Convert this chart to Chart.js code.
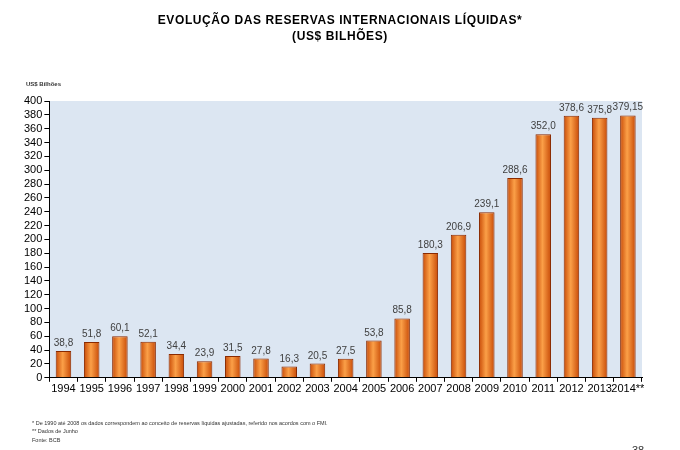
<!DOCTYPE html>
<html><head><meta charset="utf-8">
<script src="https://cdn.jsdelivr.net/npm/chart.js@4"></script>
<style>body{margin:0;background:#fff}#wrap{width:680px;height:450px;position:relative}</style>
</head><body><div id="wrap"><canvas id="c"></canvas></div>
<script>
const anos = ["1994","1995","1996","1997","1998","1999","2000","2001","2002","2003","2004","2005","2006","2007","2008","2009","2010","2011","2012","2013","2014**"];
const reservas = [38.8,51.8,60.1,52.1,34.4,23.9,31.5,27.8,16.3,20.5,27.5,53.8,85.8,180.3,206.9,239.1,288.6,352.0,378.6,375.8,379.15];
const rotulos = ["38,8","51,8","60,1","52,1","34,4","23,9","31,5","27,8","16,3","20,5","27,5","53,8","85,8","180,3","206,9","239,1","288,6","352,0","378,6","375,8","379,15"];

const extras = {
  id: "extras",
  beforeDraw(chart) {
    const { ctx, chartArea: a } = chart;
    ctx.save();
    ctx.fillStyle = "#dce6f2";
    ctx.fillRect(a.left, a.top, a.right - a.left, a.bottom - a.top);
    ctx.restore();
  },
  afterDatasetsDraw(chart) {
    const { ctx } = chart;
    ctx.save();
    ctx.font = "10px Arial, 'Liberation Sans'";
    ctx.fillStyle = "#404040";
    ctx.textAlign = "center";
    chart.getDatasetMeta(0).data.forEach((bar, i) => {
      ctx.fillText(rotulos[i], bar.x, bar.y - 5);
    });
    ctx.fillStyle = "#000";
    ctx.font = "bold 12px Arial, 'Liberation Sans'";
    ctx.letterSpacing = "0.6px";
    ctx.fillText("EVOLUÇÃO DAS RESERVAS INTERNACIONAIS LÍQUIDAS*", 340, 24);
    ctx.fillText("(US$ BILHÕES)", 340, 40);
    ctx.letterSpacing = "0px";
    ctx.textAlign = "left";
    ctx.font = "bold 6px Arial, 'Liberation Sans'";
    ctx.fillStyle = "#333";
    ctx.fillText("US$ Bilhões", 26, 86);
    ctx.font = "5.5px Arial, 'Liberation Sans'";
    ctx.fillText("* De 1990 até 2008 os dados correspondem ao conceito de reservas líquidas ajustadas, referido nos acordos com o FMI.", 32, 425);
    ctx.fillText("** Dados de Junho", 32, 433);
    ctx.fillText("Fonte: BCB", 32, 442);
    ctx.font = "11px Arial, 'Liberation Sans'";
    ctx.fillText("38", 632, 454);
    ctx.restore();
  }
};

const barPct = 0.55;

new Chart(document.getElementById("c"), {
  type: "bar",
  data: {
    labels: anos,
    datasets: [{
      data: reservas,
      backgroundColor: (c) => {
        const sx = c.chart.scales && c.chart.scales.x;
        if (!sx || c.dataIndex === undefined) return "#e87a1e";
        const x = sx.getPixelForValue(c.dataIndex);
        const w = (sx.width / anos.length) * barPct;
        if (!Number.isFinite(x) || !Number.isFinite(w) || w <= 0) return "#e87a1e";
        const g = c.chart.ctx.createLinearGradient(x - w / 2, 0, x + w / 2, 0);
        g.addColorStop(0, "#c84a06");
        g.addColorStop(0.45, "#fba048");
        g.addColorStop(1, "#c84a06");
        return g;
      },
      borderColor: "#8a2a00",
      borderWidth: 1,
      barPercentage: barPct,
      categoryPercentage: 1
    }]
  },
  options: {
    responsive: true,
    maintainAspectRatio: false,
    animation: false,
    layout: { padding: { top: 101, left: 22, right: 38, bottom: 53 } },
    plugins: { legend: { display: false }, tooltip: { enabled: false } },
    scales: {
      x: {
        grid: { drawOnChartArea: false, drawTicks: true, tickLength: 4, color: "#000" },
        border: { color: "#000" },
        ticks: { color: "#000", padding: 1, font: { size: 11, family: "Arial, 'Liberation Sans'" }, autoSkip: false, maxRotation: 0 }
      },
      y: {
        min: 0, max: 400,
        grid: { drawOnChartArea: false, drawTicks: true, tickLength: 5, color: "#000" },
        border: { color: "#000" },
        ticks: { stepSize: 20, autoSkip: false, color: "#000", padding: 2, font: { size: 11, family: "Arial, 'Liberation Sans'" } }
      }
    }
  },
  plugins: [extras]
});
</script></body></html>
